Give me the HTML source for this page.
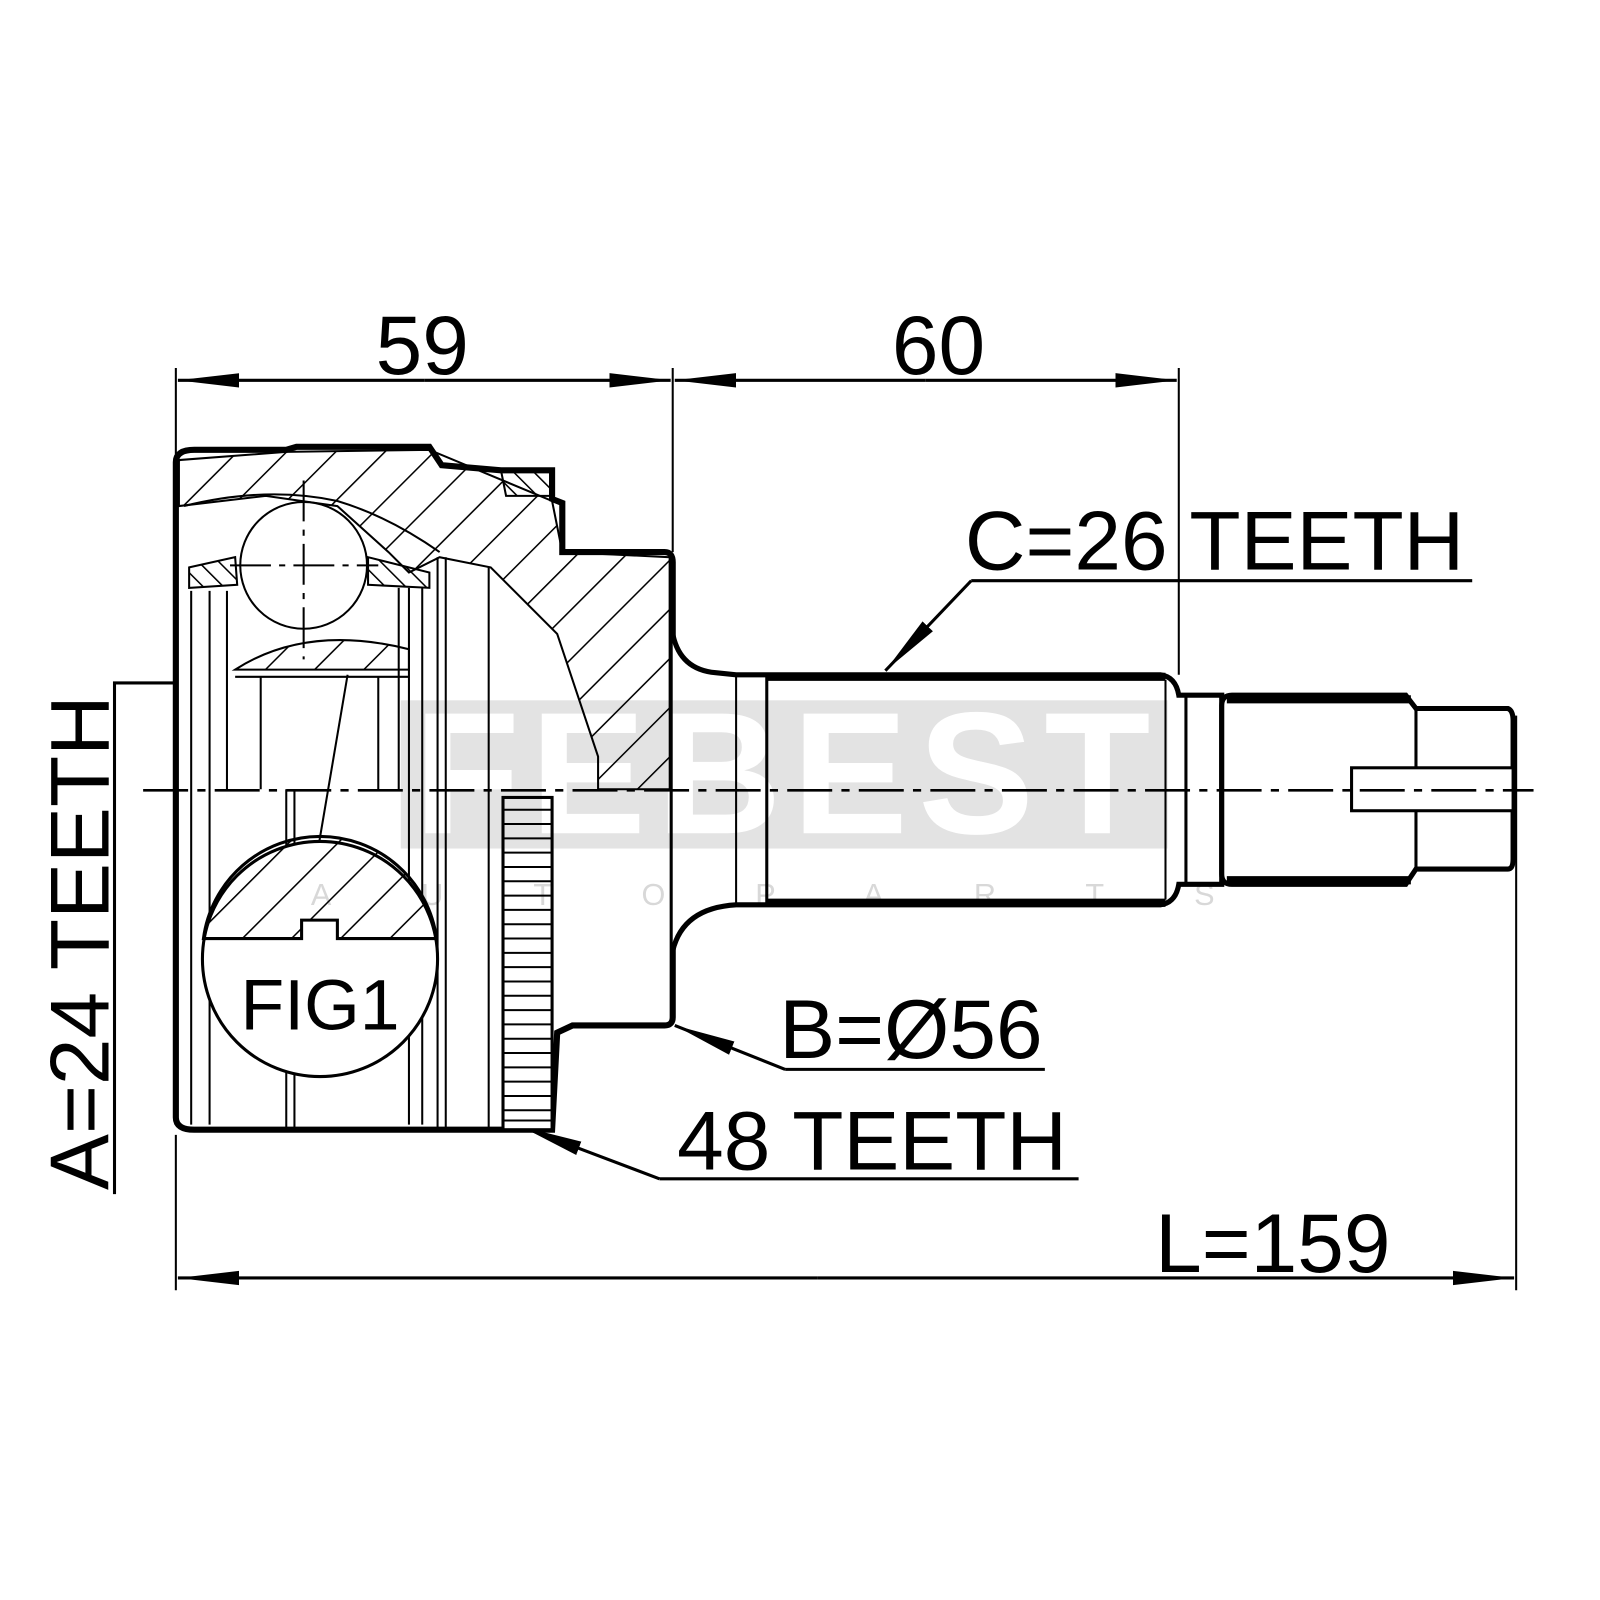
<!DOCTYPE html>
<html><head><meta charset="utf-8"><style>html,body{margin:0;padding:0;background:#fff}svg{display:block}</style></head>
<body>
<svg width="1600" height="1600" viewBox="0 0 1565 1565" xmlns="http://www.w3.org/2000/svg" font-family="Liberation Sans, sans-serif">
<defs>
<pattern id="h" patternUnits="userSpaceOnUse" width="34" height="34" patternTransform="rotate(45)">
<line x1="0" y1="0" x2="0" y2="34" stroke="#000" stroke-width="3"/></pattern>
<pattern id="h2" patternUnits="userSpaceOnUse" width="14" height="14" patternTransform="rotate(-45)">
<line x1="0" y1="0" x2="0" y2="14" stroke="#000" stroke-width="3"/></pattern>
<marker id="a" markerWidth="60" markerHeight="20" refX="60" refY="10" orient="auto" markerUnits="userSpaceOnUse">
<path d="M0,3 L60,10 L0,17 Z" fill="#000"/></marker>
</defs>

<g stroke="#000" fill="none">
<line x1="172" y1="360" x2="172" y2="455" stroke-width="2"/>
<line x1="658" y1="360" x2="658" y2="540" stroke-width="2"/>
<line x1="1153" y1="360" x2="1153" y2="660" stroke-width="2"/>
<line x1="172" y1="1110" x2="172" y2="1262" stroke-width="2"/>
<line x1="1483" y1="700" x2="1483" y2="1262" stroke-width="2"/>
<line x1="415" y1="372" x2="174" y2="372" stroke-width="3" marker-end="url(#a)"/>
<line x1="415" y1="372" x2="656" y2="372" stroke-width="3" marker-end="url(#a)"/>
<line x1="905" y1="372" x2="660" y2="372" stroke-width="3" marker-end="url(#a)"/>
<line x1="905" y1="372" x2="1151" y2="372" stroke-width="3" marker-end="url(#a)"/>
<line x1="800" y1="1250" x2="174" y2="1250" stroke-width="3" marker-end="url(#a)"/>
<line x1="800" y1="1250" x2="1481" y2="1250" stroke-width="3" marker-end="url(#a)"/>
<polyline points="112,1168 112,668 242,668" stroke-width="3" marker-end="url(#a)"/>
<line x1="1440" y1="568" x2="950" y2="568" stroke-width="3"/>
<line x1="950" y1="568" x2="866" y2="656" stroke-width="3" marker-end="url(#a)"/>
<line x1="1022" y1="1046" x2="768" y2="1046" stroke-width="3"/>
<line x1="768" y1="1046" x2="660" y2="1003" stroke-width="3" marker-end="url(#a)"/>
<line x1="1055" y1="1153" x2="645" y2="1153" stroke-width="3"/>
<line x1="645" y1="1153" x2="510" y2="1102" stroke-width="3" marker-end="url(#a)"/>

<path d="M172,452 Q172,440 190,440 L280,440 L290,437 L420,437 L432,455 L490,460 L540,460 L540,488 L550,492 L550,540 L650,540 Q658,540 658,550 L658,995 Q658,1003 650,1003 L560,1003 L545,1010 L540,1105 L190,1105 Q172,1105 172,1093 Z" stroke-width="6" fill="#fff"/>
<path d="M175,450 L280,442 L420,440 L540,490 L550,540 L655,545 L655,772 L585,772 L585,740 L545,620 L480,555 L430,545 L400,560 L380,540 L330,495 L260,485 L175,495 Z" fill="url(#h)" stroke-width="2"/>
<path d="M180,495 Q260,475 330,490 Q380,505 430,540" stroke-width="2"/>
<path d="M185,555 L230,545 L232,572 L185,575 Z M360,545 L420,560 L420,575 L360,572 Z" fill="url(#h2)" stroke-width="2"/>
<path d="M490,460 L540,460 L540,485 L495,485 Z" fill="url(#h2)" stroke-width="2"/>
<path d="M230,655 Q300,610 400,635 L400,655 Z" fill="url(#h)" stroke-width="2"/>
<ellipse cx="297" cy="553" rx="62" ry="62" stroke-width="2" fill="#fff"/>
<line x1="297" y1="470" x2="297" y2="645" stroke-width="2" stroke-dasharray="40,8,6,8"/>
<line x1="225" y1="553" x2="370" y2="553" stroke-width="2" stroke-dasharray="40,8,6,8"/>
<g stroke-width="2">
<line x1="187" y1="578" x2="187" y2="1100"/><line x1="205" y1="578" x2="205" y2="1100"/>
<line x1="222" y1="578" x2="222" y2="772"/><line x1="255" y1="662" x2="255" y2="772"/>
<line x1="370" y1="662" x2="370" y2="772"/><line x1="390" y1="575" x2="390" y2="772"/>
<line x1="400" y1="575" x2="400" y2="1100"/><line x1="413" y1="575" x2="413" y2="1100"/>
<line x1="428" y1="545" x2="428" y2="1105"/><line x1="436" y1="545" x2="436" y2="1105"/>
<line x1="478" y1="555" x2="478" y2="1105"/>
<line x1="280" y1="772" x2="280" y2="1105"/><line x1="288" y1="772" x2="288" y2="1105"/>
<line x1="230" y1="662" x2="400" y2="662"/>
<line x1="340" y1="660" x2="312" y2="825"/>
</g>
<rect x="492" y="780" width="48" height="325" stroke-width="3" fill="#fff"/>
<path d="M492,792 H540 M492,806 H540 M492,820 H540 M492,834 H540 M492,848 H540 M492,862 H540 M492,876 H540 M492,890 H540 M492,904 H540 M492,918 H540 M492,932 H540 M492,946 H540 M492,960 H540 M492,974 H540 M492,988 H540 M492,1002 H540 M492,1016 H540 M492,1030 H540 M492,1044 H540 M492,1058 H540 M492,1072 H540 M492,1086 H540 M492,1096 H540" stroke-width="2"/>
<circle cx="313" cy="938" r="115" stroke-width="3" fill="#fff"/>
<path d="M200,918 L295,918 L295,900 L330,900 L330,918 L427,918 A115,115 0 0 0 199,918 Z" fill="url(#h)" stroke-width="3"/>

<path d="M658,620 Q665,655 700,658 L720,660 L750,660 L1135,660 Q1150,662 1153,680 L1195,680 L1195,865 L1153,865 Q1150,883 1135,885 L750,885 L720,885 Q668,888 658,930" stroke-width="5" fill="#fff"/>
<line x1="720" y1="660" x2="720" y2="885" stroke-width="2"/>
<line x1="750" y1="660" x2="750" y2="885" stroke-width="3"/>
<line x1="1140" y1="665" x2="1140" y2="880" stroke-width="2"/>
<line x1="750" y1="662" x2="1140" y2="662" stroke-width="8"/>
<line x1="750" y1="883" x2="1140" y2="883" stroke-width="8"/>
<line x1="1160" y1="680" x2="1160" y2="865" stroke-width="3"/>
<path d="M1195,690 Q1195,680 1205,680 L1375,680 L1385,693 L1475,693 Q1480,695 1480,705 L1480,840 Q1480,850 1475,850 L1385,850 L1375,865 L1205,865 Q1195,865 1195,855 Z" stroke-width="5" fill="#fff"/>
<line x1="1200" y1="684" x2="1380" y2="684" stroke-width="8"/>
<line x1="1200" y1="861" x2="1380" y2="861" stroke-width="8"/>
<line x1="1385" y1="693" x2="1385" y2="850" stroke-width="3"/>
<rect x="1322" y="751" width="158" height="42" stroke-width="3" fill="#fff"/>
<line x1="140" y1="773" x2="1500" y2="773" stroke-width="2.5" stroke-dasharray="44,9,8,9"/>
</g>

<g style="mix-blend-mode:multiply">
<rect x="392" y="685" width="750" height="145" fill="#e3e3e3"/>
<text x="770" y="815" font-size="170" font-weight="bold" fill="#fff" text-anchor="middle" letter-spacing="10">FEBEST</text>
<text x="790" y="885" font-size="30" fill="#d8d8d8" text-anchor="middle" letter-spacing="88">AUTOPARTS</text>
</g>

<g font-size="82" fill="#000">
<text x="413" y="366" text-anchor="middle">59</text>
<text x="918" y="366" text-anchor="middle">60</text>
<text x="1245" y="1244" text-anchor="middle">L=159</text>
<text x="1188" y="557" text-anchor="middle">C=26 TEETH</text>
<text x="891" y="1035" text-anchor="middle">B=Ø56</text>
<text x="853" y="1144" text-anchor="middle">48 TEETH</text>
<text x="313" y="1007" text-anchor="middle" font-size="70">FIG1</text>
<text transform="translate(106,922) rotate(-90)" text-anchor="middle">A=24 TEETH</text>
</g>
</svg>
</body></html>
